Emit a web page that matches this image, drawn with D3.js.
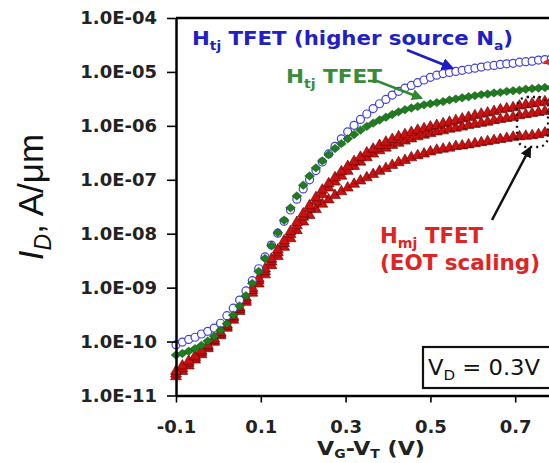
<!DOCTYPE html>
<html>
<head>
<meta charset="utf-8">
<script src="https://cdn.jsdelivr.net/npm/d3@7.9.0/dist/d3.min.js"></script>
<style>
  body { margin: 0; background: #fff; }
  svg { display: block; }
  text { font-family: "DejaVu Sans", sans-serif; font-weight: bold; }
</style>
</head>
<body>
<svg id="chart" width="549" height="463"></svg>
<script>
// gate overdrive VG-VT (V), shared by all series
const vg = [-0.100, -0.085, -0.070, -0.055, -0.040, -0.025, -0.010, 0.005, 0.020, 0.035,
  0.050, 0.065, 0.080, 0.095, 0.110, 0.125, 0.140, 0.155, 0.170, 0.185,
  0.200, 0.215, 0.230, 0.245, 0.260, 0.275, 0.290, 0.305, 0.320, 0.335,
  0.350, 0.365, 0.380, 0.395, 0.410, 0.425, 0.440, 0.455, 0.470, 0.485,
  0.500, 0.515, 0.530, 0.545, 0.560, 0.575, 0.590, 0.605, 0.620, 0.635,
  0.650, 0.665, 0.680, 0.695, 0.710, 0.725, 0.740, 0.755, 0.770, 0.785, 0.800];

// log10(ID in A/um)
const htjHighNa = [-10.06, -10.01, -9.96, -9.92, -9.86, -9.81, -9.75, -9.66, -9.52, -9.38,
  -9.23, -9.06, -8.87, -8.65, -8.43, -8.21, -7.99, -7.77, -7.56, -7.36,
  -7.17, -7.00, -6.83, -6.67, -6.52, -6.38, -6.24, -6.11, -5.99, -5.88,
  -5.78, -5.68, -5.59, -5.51, -5.43, -5.36, -5.30, -5.25, -5.20, -5.15,
  -5.10, -5.06, -5.03, -5.01, -4.99, -4.97, -4.95, -4.93, -4.91, -4.89,
  -4.88, -4.86, -4.85, -4.84, -4.82, -4.81, -4.80, -4.78, -4.77, -4.76, -4.75];
const htj = [-10.25, -10.22, -10.18, -10.13, -10.07, -9.99, -9.90, -9.79, -9.67, -9.51,
  -9.34, -9.15, -8.92, -8.70, -8.46, -8.22, -7.98, -7.75, -7.52, -7.30,
  -7.10, -6.93, -6.78, -6.65, -6.53, -6.42, -6.33, -6.24, -6.16, -6.08,
  -6.01, -5.95, -5.89, -5.84, -5.79, -5.74, -5.70, -5.67, -5.64, -5.61,
  -5.59, -5.57, -5.55, -5.52, -5.50, -5.48, -5.46, -5.44, -5.42, -5.41,
  -5.39, -5.38, -5.36, -5.35, -5.34, -5.32, -5.31, -5.30, -5.29, -5.29, -5.28];
const hmjA = [-10.55, -10.45, -10.36, -10.27, -10.17, -10.07, -9.95, -9.83, -9.69, -9.53,
  -9.37, -9.19, -9.01, -8.83, -8.65, -8.47, -8.30, -8.13, -7.96, -7.79,
  -7.63, -7.48, -7.33, -7.19, -7.07, -6.96, -6.85, -6.75, -6.66, -6.58,
  -6.50, -6.43, -6.36, -6.30, -6.25, -6.20, -6.16, -6.12, -6.08, -6.05,
  -6.02, -5.99, -5.96, -5.93, -5.90, -5.87, -5.84, -5.81, -5.78, -5.76,
  -5.73, -5.70, -5.68, -5.66, -5.63, -5.61, -5.59, -5.57, -5.55, -5.53, -5.52];
const hmjB = [-10.60, -10.50, -10.40, -10.30, -10.20, -10.10, -9.98, -9.86, -9.72, -9.56,
  -9.40, -9.23, -9.05, -8.87, -8.70, -8.52, -8.35, -8.18, -8.01, -7.85,
  -7.69, -7.54, -7.40, -7.27, -7.15, -7.04, -6.93, -6.84, -6.75, -6.67,
  -6.59, -6.52, -6.46, -6.41, -6.36, -6.32, -6.28, -6.24, -6.20, -6.17,
  -6.14, -6.11, -6.09, -6.06, -6.04, -6.02, -5.99, -5.97, -5.95, -5.93,
  -5.90, -5.88, -5.86, -5.84, -5.81, -5.79, -5.77, -5.75, -5.73, -5.71, -5.70];
const hmjC = [-10.65, -10.55, -10.45, -10.34, -10.24, -10.13, -10.01, -9.89, -9.75, -9.60,
  -9.44, -9.27, -9.10, -8.93, -8.76, -8.59, -8.42, -8.25, -8.09, -7.94,
  -7.78, -7.66, -7.55, -7.45, -7.37, -7.29, -7.22, -7.15, -7.08, -7.02,
  -6.96, -6.90, -6.84, -6.79, -6.73, -6.68, -6.64, -6.59, -6.55, -6.52,
  -6.48, -6.45, -6.43, -6.41, -6.38, -6.37, -6.35, -6.33, -6.31, -6.29,
  -6.27, -6.25, -6.23, -6.21, -6.20, -6.19, -6.18, -6.16, -6.13, -6.11, -6.09];

const yTicks = [1e-4, 1e-5, 1e-6, 1e-7, 1e-8, 1e-9, 1e-10, 1e-11];
const yTickLabels = ["1.0E-04", "1.0E-05", "1.0E-06", "1.0E-07", "1.0E-08", "1.0E-09", "1.0E-10", "1.0E-11"];
const xTicks = [-0.1, 0.1, 0.3, 0.5, 0.7];
const xTickLabels = ["-0.1", "0.1", "0.3", "0.5", "0.7"];

const svg = d3.select("#chart");

const x = d3.scaleLinear().domain([-0.1, 0.9]).range([176, 600]);
const y = d3.scaleLog().domain([1e-11, 1e-4]).range([395.5, 18]);

const toPoints = (logs) => vg.map((v, i) => ({ v: v, id: Math.pow(10, logs[i]) }));

// arrow heads
const defs = svg.append("defs");
[["blue", "#1c1cc8"], ["green", "#2f8a2f"], ["black", "#111"], ["red", "#e82020"]].forEach(([name, col]) => {
  defs.append("marker")
    .attr("id", "head-" + name)
    .attr("viewBox", "0 0 10 10")
    .attr("refX", 8).attr("refY", 5)
    .attr("markerWidth", 4.5).attr("markerHeight", 4.5)
    .attr("orient", "auto")
    .append("path")
    .attr("d", "M0,0L10,5L0,10Z")
    .attr("fill", col);
});

// wide diamond for the green series (fixed shape)
const wideDiamond = {
  draw(ctx) {
    const w = 4.9, h = 4.2;
    ctx.moveTo(-w, 0); ctx.lineTo(0, -h); ctx.lineTo(w, 0); ctx.lineTo(0, h); ctx.closePath();
  }
};

const plot = svg.append("g");

// red Hmj series (EOT scaling)
[hmjC, hmjB, hmjA].forEach(series => {
  plot.append("g").selectAll("path")
    .data(toPoints(series))
    .join("path")
    .attr("transform", d => `translate(${x(d.v)},${y(d.id)})`)
    .attr("d", d3.symbol(d3.symbolTriangle, 52))
    .attr("fill", "#cc1010")
    .attr("stroke", "#560000")
    .attr("stroke-width", 0.6);
});

// blue open circles
plot.append("g").selectAll("circle")
  .data(toPoints(htjHighNa))
  .join("circle")
  .attr("cx", d => x(d.v))
  .attr("cy", d => y(d.id))
  .attr("r", 4)
  .attr("fill", "#fff")
  .attr("stroke", "#4040e0")
  .attr("stroke-width", 1.2);

// green diamonds
plot.append("g").selectAll("path")
  .data(toPoints(htj))
  .join("path")
  .attr("transform", d => `translate(${x(d.v)},${y(d.id)})`)
  .attr("d", d3.symbol(wideDiamond))
  .attr("fill", "#1f7d1f")
  .attr("stroke", "#0f4a0f")
  .attr("stroke-width", 0.5);

// axes
const yAxis = svg.append("g")
  .attr("transform", `translate(${x(-0.1)},0)`)
  .call(d3.axisLeft(y).tickValues(yTicks).tickFormat((d, i) => yTickLabels[i])
    .tickSize(9).tickPadding(10).tickSizeOuter(0));
yAxis.attr("font-family", null).attr("font-size", null);
yAxis.select(".domain").attr("stroke", "#000").attr("stroke-width", 2.5);
yAxis.selectAll(".tick line").attr("stroke", "#000").attr("stroke-width", 1.6);
yAxis.selectAll(".tick text").attr("font-size", 18).attr("fill", "#222");

const xAxis = svg.append("g")
  .attr("transform", `translate(0,${y(1e-11)})`)
  .call(d3.axisBottom(x).tickValues(xTicks).tickFormat((d, i) => xTickLabels[i])
    .tickSize(7).tickPadding(18).tickSizeOuter(0));
xAxis.attr("font-family", null).attr("font-size", null);
xAxis.select(".domain").attr("stroke", "#000").attr("stroke-width", 2.5);
xAxis.selectAll(".tick line").attr("stroke", "#000").attr("stroke-width", 1.6);
xAxis.selectAll(".tick text").attr("font-size", 18).attr("fill", "#222");

// top frame line
svg.append("line")
  .attr("x1", x(-0.1)).attr("x2", 549)
  .attr("y1", y(1e-4)).attr("y2", y(1e-4))
  .attr("stroke", "#000").attr("stroke-width", 2.5);

// axis titles
const yTitle = svg.append("text")
  .attr("transform", "translate(43,197) rotate(-90)")
  .attr("text-anchor", "middle")
  .style("font-family", "'Liberation Sans', Arial, sans-serif")
  .style("font-weight", "normal")
  .attr("font-size", 35)
  .attr("fill", "#111");
yTitle.append("tspan").style("font-style", "italic").text("I");
yTitle.append("tspan").style("font-style", "italic").attr("font-size", 23).attr("dy", 8).text("D");
yTitle.append("tspan").attr("dy", -8).text(", A/\u03bcm");

const xTitle = svg.append("text")
  .attr("x", 317).attr("y", 455)
  .attr("font-size", 19)
  .attr("textLength", 108).attr("lengthAdjust", "spacingAndGlyphs")
  .attr("fill", "#222");
xTitle.append("tspan").text("V");
xTitle.append("tspan").attr("font-size", 12).attr("dy", 3).text("G");
xTitle.append("tspan").attr("dy", -3).text("-V");
xTitle.append("tspan").attr("font-size", 12).attr("dy", 3).text("T");
xTitle.append("tspan").attr("dy", -3).text(" (V)");

// annotations
const blueLabel = svg.append("text")
  .attr("x", 192).attr("y", 45)
  .attr("font-size", 20).attr("fill", "#2020c4")
  .attr("textLength", 321).attr("lengthAdjust", "spacingAndGlyphs");
blueLabel.append("tspan").text("H");
blueLabel.append("tspan").attr("font-size", 13).attr("dy", 5).text("tj");
blueLabel.append("tspan").attr("dy", -5).text(" TFET (higher source N");
blueLabel.append("tspan").attr("font-size", 13).attr("dy", 5).text("a");
blueLabel.append("tspan").attr("dy", -5).text(")");

svg.append("line")
  .attr("x1", 407).attr("y1", 50).attr("x2", 452).attr("y2", 68)
  .attr("stroke", "#1c1cc8").attr("stroke-width", 2.8)
  .attr("marker-end", "url(#head-blue)");

const greenLabel = svg.append("text")
  .attr("x", 286).attr("y", 83)
  .attr("font-size", 20).attr("fill", "#3a8c3a")
  .attr("textLength", 96).attr("lengthAdjust", "spacingAndGlyphs");
greenLabel.append("tspan").text("H");
greenLabel.append("tspan").attr("font-size", 13).attr("dy", 5).text("tj");
greenLabel.append("tspan").attr("dy", -5).text(" TFET");

svg.append("path")
  .attr("d", "M368,81L377,81L421,98")
  .attr("fill", "none")
  .attr("stroke", "#2f8a2f").attr("stroke-width", 2.5)
  .attr("marker-end", "url(#head-green)");

const redLine1 = svg.append("text")
  .attr("x", 380).attr("y", 243)
  .attr("font-size", 21).attr("fill", "#e02424")
  .attr("textLength", 103).attr("lengthAdjust", "spacingAndGlyphs");
redLine1.append("tspan").text("H");
redLine1.append("tspan").attr("font-size", 14).attr("dy", 5).text("mj");
redLine1.append("tspan").attr("dy", -5).text(" TFET");
svg.append("text")
  .attr("x", 380).attr("y", 270)
  .attr("font-size", 21).attr("fill", "#e02424")
  .attr("textLength", 160).attr("lengthAdjust", "spacingAndGlyphs")
  .text("(EOT scaling)");

svg.append("line")
  .attr("x1", 492).attr("y1", 220).attr("x2", 530).attr("y2", 148)
  .attr("stroke", "#111").attr("stroke-width", 2.5)
  .attr("marker-end", "url(#head-black)");

// dotted outline around the Hmj curve ends
svg.append("rect")
  .attr("x", 517).attr("y", 97).attr("width", 31).attr("height", 50)
  .attr("rx", 10)
  .attr("fill", "none")
  .attr("stroke", "#111").attr("stroke-width", 2.4)
  .attr("stroke-dasharray", "2,4");

// red arrow entering from the right edge
svg.append("line")
  .attr("x1", 570).attr("y1", 62).attr("x2", 545).attr("y2", 62)
  .attr("stroke", "#e82020").attr("stroke-width", 2.5)
  .attr("marker-end", "url(#head-red)");

// drain bias box
svg.append("rect")
  .attr("x", 423).attr("y", 347).attr("width", 140).attr("height", 41)
  .attr("fill", "#fff").attr("stroke", "#111").attr("stroke-width", 2.2);
const vdLabel = svg.append("text")
  .attr("x", 428).attr("y", 375)
  .style("font-weight", "normal")
  .attr("font-size", 21).attr("fill", "#111")
  .attr("textLength", 112).attr("lengthAdjust", "spacingAndGlyphs");
vdLabel.append("tspan").text("V");
vdLabel.append("tspan").attr("font-size", 14).attr("dy", 5).text("D");
vdLabel.append("tspan").attr("dy", -5).text(" = 0.3V");
</script>
</body>
</html>
